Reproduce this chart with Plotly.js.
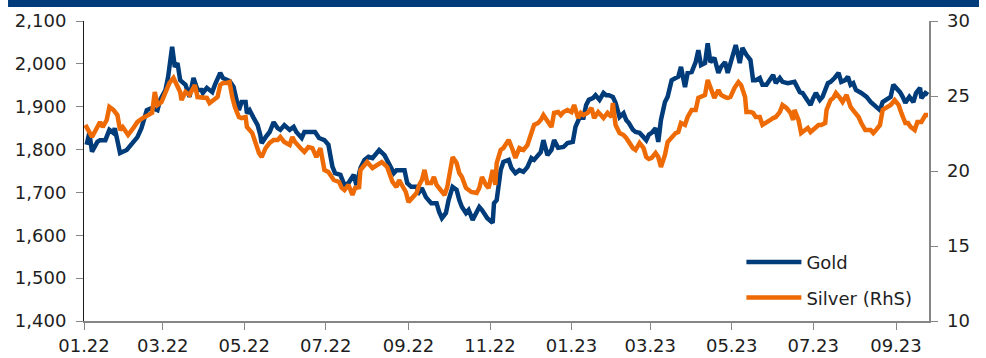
<!DOCTYPE html>
<html>
<head>
<meta charset="utf-8">
<script src="https://cdn.plot.ly/plotly-3.0.1.min.js"></script>
<style>
  html, body { margin: 0; padding: 0; background: #ffffff; }
  #chart { width: 986px; height: 358px; }
</style>
</head>
<body>
<div id="chart"></div>
<script>
// Gold price (USD/oz, left axis)
const goldDates = [
  '2022-01-03','2022-01-05','2022-01-07','2022-01-11','2022-01-13','2022-01-17','2022-01-20','2022-01-23','2022-01-24','2022-01-28',
  '2022-02-02','2022-02-04','2022-02-10','2022-02-13','2022-02-17','2022-02-21','2022-02-25','2022-02-27','2022-03-03','2022-03-05',
  '2022-03-08','2022-03-10','2022-03-12','2022-03-14','2022-03-18','2022-03-20','2022-03-21','2022-03-24','2022-03-27','2022-03-30',
  '2022-03-31','2022-04-03','2022-04-07','2022-04-09','2022-04-13','2022-04-15','2022-04-18','2022-04-20','2022-04-23','2022-04-25',
  '2022-04-27','2022-04-29','2022-05-02','2022-05-03','2022-05-05','2022-05-08','2022-05-11','2022-05-13','2022-05-14','2022-05-17',
  '2022-05-20','2022-05-23','2022-05-26','2022-05-28','2022-05-31','2022-06-04','2022-06-07','2022-06-09','2022-06-13','2022-06-15',
  '2022-06-19','2022-06-23','2022-06-26','2022-06-30','2022-07-03','2022-07-06','2022-07-08','2022-07-12','2022-07-15','2022-07-18',
  '2022-07-22','2022-07-24','2022-07-27','2022-07-30','2022-08-02','2022-08-05','2022-08-10','2022-08-14','2022-08-17','2022-08-21',
  '2022-08-23','2022-08-29','2022-08-31','2022-09-03','2022-09-07','2022-09-09','2022-09-11','2022-09-14','2022-09-18','2022-09-22',
  '2022-09-24','2022-09-26','2022-09-29','2022-10-01','2022-10-04','2022-10-07','2022-10-09','2022-10-11','2022-10-14','2022-10-16',
  '2022-10-19','2022-10-22','2022-10-24','2022-10-26','2022-10-30','2022-11-03','2022-11-04','2022-11-06','2022-11-09','2022-11-11',
  '2022-11-15','2022-11-17','2022-11-20','2022-11-23','2022-11-26','2022-11-29','2022-12-02','2022-12-04','2022-12-07','2022-12-09',
  '2022-12-11','2022-12-14','2022-12-17','2022-12-19','2022-12-22','2022-12-24','2022-12-26','2022-12-29','2023-01-02','2023-01-04',
  '2023-01-07','2023-01-10','2023-01-12','2023-01-14','2023-01-17','2023-01-19','2023-01-22','2023-01-25','2023-01-27','2023-01-29',
  '2023-02-01','2023-02-03','2023-02-06','2023-02-09','2023-02-11','2023-02-13','2023-02-16','2023-02-18','2023-02-21','2023-02-24',
  '2023-02-26','2023-02-28','2023-03-02','2023-03-05','2023-03-07','2023-03-09','2023-03-12','2023-03-14','2023-03-17','2023-03-20',
  '2023-03-22','2023-03-24','2023-03-27','2023-03-29','2023-04-01','2023-04-04','2023-04-06','2023-04-08','2023-04-11','2023-04-13',
  '2023-04-15','2023-04-18','2023-04-21','2023-04-23','2023-04-26','2023-04-28','2023-04-30','2023-05-04','2023-05-07','2023-05-09',
  '2023-05-12','2023-05-15','2023-05-17','2023-05-19','2023-05-22','2023-05-24','2023-05-27','2023-05-30','2023-06-01','2023-06-03',
  '2023-06-06','2023-06-08','2023-06-12','2023-06-17','2023-06-21','2023-06-23','2023-06-26','2023-06-29','2023-07-01','2023-07-03',
  '2023-07-06','2023-07-08','2023-07-12','2023-07-14','2023-07-17','2023-07-20','2023-07-22','2023-07-25','2023-07-27','2023-07-29',
  '2023-07-31','2023-08-02','2023-08-06','2023-08-10','2023-08-13','2023-08-17','2023-08-20','2023-08-22','2023-08-25','2023-08-28',
  '2023-08-30','2023-09-01','2023-09-04','2023-09-06','2023-09-08','2023-09-11','2023-09-14','2023-09-16','2023-09-19','2023-09-20',
  '2023-09-23','2023-09-25'
];
const goldPrice = [
  1811,1839,1795,1818,1822,1822,1846,1839,1850,1792,
  1799,1806,1829,1850,1892,1897,1892,1916,1939,1970,
  2040,1993,2002,1962,1951,1934,1923,1967,1939,1939,
  1932,1944,1934,1951,1979,1967,1962,1960,1946,1923,
  1892,1911,1911,1885,1892,1874,1857,1834,1815,1829,
  1841,1864,1850,1846,1857,1846,1853,1841,1827,1841,
  1841,1841,1827,1822,1811,1760,1745,1741,1717,1722,
  1741,1717,1757,1776,1783,1780,1799,1787,1769,1745,
  1752,1752,1722,1713,1713,1701,1710,1689,1675,1675,
  1654,1640,1652,1682,1713,1706,1682,1666,1652,1659,
  1636,1652,1666,1659,1640,1629,1675,1682,1752,1771,
  1776,1757,1745,1752,1748,1759,1780,1776,1787,1794,
  1822,1787,1799,1822,1804,1804,1806,1815,1818,1853,
  1874,1874,1904,1916,1920,1927,1916,1932,1927,1927,
  1923,1909,1876,1885,1869,1862,1846,1841,1839,1829,
  1822,1835,1839,1850,1818,1869,1911,1923,1962,1967,
  1970,1993,1946,1979,1981,2004,2032,1997,2002,2048,
  2004,2014,1979,1993,2004,1979,2002,2044,2002,2037,
  2021,2009,1962,1962,1967,1951,1951,1967,1974,1955,
  1967,1958,1955,1958,1934,1932,1920,1904,1920,1932,
  1916,1923,1955,1958,1967,1979,1958,1962,1970,1951,
  1955,1939,1932,1923,1911,1899,1892,1911,1916,1923,
  1951,1944,1934,1923,1909,1923,1911,1932,1944,1920,
  1932,1928
];

// Silver price (USD/oz, right axis)
const silverDates = [
  '2022-01-02','2022-01-04','2022-01-07','2022-01-09','2022-01-13','2022-01-15','2022-01-18','2022-01-20','2022-01-23','2022-01-26',
  '2022-01-28','2022-01-30','2022-02-03','2022-02-07','2022-02-10','2022-02-14','2022-02-18','2022-02-21','2022-02-23','2022-02-25',
  '2022-02-28','2022-03-04','2022-03-06','2022-03-09','2022-03-12','2022-03-14','2022-03-15','2022-03-18','2022-03-21','2022-03-25',
  '2022-03-27','2022-03-30','2022-04-03','2022-04-05','2022-04-08','2022-04-11','2022-04-13','2022-04-15','2022-04-18','2022-04-20',
  '2022-04-22','2022-04-24','2022-04-27','2022-04-29','2022-05-02','2022-05-03','2022-05-07','2022-05-09','2022-05-12','2022-05-14',
  '2022-05-17','2022-05-20','2022-05-23','2022-05-26','2022-05-28','2022-05-31','2022-06-04','2022-06-06','2022-06-08','2022-06-12',
  '2022-06-15','2022-06-18','2022-06-21','2022-06-24','2022-06-27','2022-06-30','2022-07-03','2022-07-07','2022-07-11','2022-07-13',
  '2022-07-15','2022-07-18','2022-07-21','2022-07-23','2022-07-26','2022-07-27','2022-07-30','2022-08-01','2022-08-05','2022-08-08',
  '2022-08-12','2022-08-16','2022-08-20','2022-08-23','2022-08-25','2022-08-27','2022-08-30','2022-09-01','2022-09-04','2022-09-07',
  '2022-09-09','2022-09-11','2022-09-13','2022-09-15','2022-09-18','2022-09-20','2022-09-22','2022-09-25','2022-09-28','2022-09-30',
  '2022-10-02','2022-10-04','2022-10-07','2022-10-09','2022-10-11','2022-10-14','2022-10-18','2022-10-22','2022-10-24','2022-10-26',
  '2022-10-29','2022-10-31','2022-11-03','2022-11-05','2022-11-06','2022-11-09','2022-11-11','2022-11-14','2022-11-15','2022-11-18',
  '2022-11-20','2022-11-23','2022-11-26','2022-11-29','2022-12-02','2022-12-04','2022-12-07','2022-12-09','2022-12-11','2022-12-14',
  '2022-12-17','2022-12-19','2022-12-22','2022-12-24','2022-12-26','2022-12-29','2023-01-01','2023-01-03','2023-01-06','2023-01-08',
  '2023-01-10','2023-01-13','2023-01-16','2023-01-18','2023-01-21','2023-01-23','2023-01-25','2023-01-28','2023-01-31','2023-02-01',
  '2023-02-03','2023-02-06','2023-02-09','2023-02-11','2023-02-13','2023-02-16','2023-02-18','2023-02-21','2023-02-24','2023-02-26',
  '2023-02-28','2023-03-02','2023-03-05','2023-03-07','2023-03-09','2023-03-12','2023-03-14','2023-03-17','2023-03-20','2023-03-22',
  '2023-03-24','2023-03-27','2023-03-29','2023-04-01','2023-04-04','2023-04-06','2023-04-08','2023-04-11','2023-04-13','2023-04-15',
  '2023-04-18','2023-04-21','2023-04-23','2023-04-26','2023-04-28','2023-04-30','2023-05-03','2023-05-06','2023-05-08','2023-05-11',
  '2023-05-12','2023-05-15','2023-05-17','2023-05-19','2023-05-22','2023-05-24','2023-05-27','2023-05-30','2023-06-01','2023-06-03',
  '2023-06-06','2023-06-08','2023-06-11','2023-06-14','2023-06-16','2023-06-17','2023-06-20','2023-06-22','2023-06-25','2023-06-27',
  '2023-06-29','2023-07-02','2023-07-05','2023-07-07','2023-07-10','2023-07-11','2023-07-14','2023-07-16','2023-07-18','2023-07-21',
  '2023-07-23','2023-07-26','2023-07-29','2023-08-01','2023-08-04','2023-08-06','2023-08-09','2023-08-13','2023-08-15','2023-08-17',
  '2023-08-20','2023-08-22','2023-08-25','2023-08-28','2023-08-31','2023-09-03','2023-09-05','2023-09-08','2023-09-10','2023-09-12',
  '2023-09-15','2023-09-17','2023-09-20','2023-09-23','2023-09-25'
];
const silverPrice = [
  23.07,22.73,22.27,22.60,23.27,22.93,23.40,24.27,24.07,23.73,
  22.73,22.93,22.40,22.87,23.27,23.53,23.73,23.87,25.27,24.40,
  24.60,25.40,25.87,26.20,25.73,25.27,24.73,25.27,25.07,25.73,
  24.93,24.93,24.87,24.53,24.73,24.93,25.73,25.87,25.87,25.93,
  24.93,24.27,23.60,23.53,23.60,22.93,22.53,21.93,21.20,20.93,
  21.53,21.87,22.07,22.07,22.27,21.93,21.73,22.27,21.93,21.53,
  21.27,21.60,21.53,20.93,21.53,20.07,19.93,19.40,19.27,18.87,
  18.73,19.07,18.40,18.87,18.93,20.07,20.45,20.60,20.20,20.40,
  20.60,20.27,19.27,18.93,19.40,19.07,18.60,17.93,18.27,18.53,
  19.07,19.40,20.07,19.20,19.20,19.60,19.07,18.73,18.40,18.93,
  20.07,20.93,20.53,19.87,19.60,18.87,18.60,18.53,18.87,19.60,
  19.07,18.87,20.07,19.07,20.53,21.40,21.53,21.93,22.07,21.40,
  20.87,21.53,21.40,21.73,22.60,23.07,23.20,23.40,23.73,23.27,
  22.93,23.87,23.93,23.73,23.93,24.07,23.93,24.40,23.53,23.87,
  23.73,23.87,24.20,23.53,23.93,23.73,23.53,23.87,23.60,24.53,
  23.07,22.53,22.40,22.20,21.87,21.53,21.40,21.87,21.53,20.93,
  20.80,20.87,21.20,20.93,20.27,21.07,21.93,22.20,22.53,22.60,
  23.20,23.07,23.60,24.07,24.07,24.87,24.93,25.07,26.07,25.53,
  24.87,25.40,25.07,24.93,24.87,24.93,25.53,25.93,25.73,24.93,
  23.93,23.93,23.87,23.60,23.60,23.07,23.20,23.40,23.53,23.60,
  23.93,24.40,24.20,23.87,23.40,24.07,23.40,22.53,22.73,22.87,
  22.60,22.87,23.07,23.07,23.20,24.07,24.73,24.87,25.20,24.87,
  24.60,25.07,24.27,23.93,23.60,23.20,22.73,22.73,22.53,22.73,
  23.07,24.07,24.27,24.40,24.73,24.40,23.87,23.20,23.20,22.93,
  22.73,23.27,23.27,23.73,23.73
];

// Bi-monthly date ticks on the time axis
const monthTicks = [
  '2022-01-01','2022-03-01','2022-05-01','2022-07-01','2022-09-01','2022-11-01',
  '2023-01-01','2023-03-01','2023-05-01','2023-07-01','2023-09-01'
];
const monthLabels = ['01.22','03.22','05.22','07.22','09.22','11.22','01.23','03.23','05.23','07.23','09.23'];

const goldRange = [1400, 2100];
const silverRange = [10, 30];

const NAVY = '#003b7a';
const ORANGE = '#ee6a04';
const TEXT = '#1e1e1e';
const GREY = '#868686';

const traces = [
  {
    x: goldDates, y: goldPrice, name: 'Gold', type: 'scatter', mode: 'lines',
    line: { color: NAVY, width: 4.5, shape: 'linear' },
    yaxis: 'y', legendgroup: 'gold', hoverinfo: 'skip'
  },
  {
    x: silverDates, y: silverPrice, name: 'Silver (RhS)', type: 'scatter', mode: 'lines',
    line: { color: ORANGE, width: 4.5, shape: 'linear' },
    yaxis: 'y2', legendgroup: 'silver', hoverinfo: 'skip'
  }
];

const layout = {
  width: 986, height: 358,
  margin: { l: 84, r: 57, t: 21, b: 37, pad: 0 },
  paper_bgcolor: '#ffffff', plot_bgcolor: '#ffffff',
  font: { family: 'DejaVu Sans, sans-serif', size: 18, color: TEXT },
  showlegend: true,
  legend: {
    x: 0.778, xanchor: 'left', y: 0.257, yanchor: 'top',
    bgcolor: 'rgba(0,0,0,0)', borderwidth: 0,
    itemwidth: 55, tracegroupgap: 9, traceorder: 'grouped',
    font: { family: 'DejaVu Sans, sans-serif', size: 18, color: TEXT }
  },
  xaxis: {
    type: 'date',
    range: ['2022-01-01', '2023-09-25 17:00'],
    tickmode: 'array', tickvals: monthTicks, ticktext: monthLabels,
    ticks: 'outside', ticklen: 7, tickwidth: 1, tickcolor: GREY,
    showline: true, linecolor: GREY, linewidth: 2,
    showgrid: false, zeroline: false,
    tickfont: { size: 18, color: TEXT }
  },
  yaxis: {
    range: goldRange, dtick: 100, tickformat: ',',
    ticks: 'outside', ticklen: 7, tickwidth: 1, tickcolor: GREY,
    showline: true, linecolor: '#1a1a1a', linewidth: 1,
    showgrid: false, zeroline: false, ticklabelstandoff: 6,
    tickfont: { size: 18, color: TEXT }
  },
  yaxis2: {
    range: silverRange, dtick: 5, overlaying: 'y', side: 'right',
    ticks: 'outside', ticklen: 7, tickwidth: 1, tickcolor: GREY,
    showline: true, linecolor: GREY, linewidth: 1.5,
    showgrid: false, zeroline: false, ticklabelstandoff: 6,
    tickfont: { size: 18, color: TEXT }
  },
  shapes: [
    {
      type: 'rect', xref: 'paper', yref: 'paper',
      x0: -0.0899, x1: 1.0592, y0: 1.0467, y1: 1.08,
      fillcolor: NAVY, line: { width: 0 }, layer: 'above'
    }
  ]
};

Plotly.newPlot('chart', traces, layout, { displayModeBar: false, staticPlot: true });
</script>
</body>
</html>
